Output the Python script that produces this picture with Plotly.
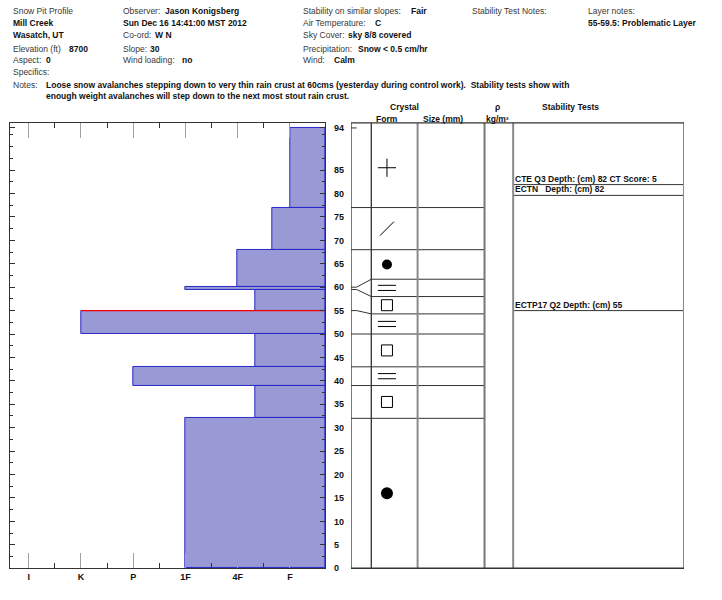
import plotly.graph_objects as go

W, H = 722, 600

# ---------------- data ----------------
layer_top_cm = [94, 77, 68, 60, 59.5, 55, 50, 43, 39, 32]
layer_bottom_cm = [77, 68, 60, 59.5, 55, 50, 43, 39, 32, 0]
layer_hardness = [1.0, 1.33, 2.0, 3.0, 1.67, 5.0, 1.67, 4.0, 1.67, 3.0]  # F=1 ... I=6
hardness_ticks = [6, 5, 4, 3, 2, 1]
hardness_labels = ["I", "K", "P", "1F", "4F", "F"]
hardness_minor = [1.5, 2.5, 3.5, 4.5, 5.5]

depth_ticks = [0, 5, 10, 15, 20, 25, 30, 35, 40, 45, 50, 55, 60, 65, 70, 75, 80, 85, 94]
depth_minor = [2.5, 7.5, 12.5, 17.5, 22.5, 27.5, 32.5, 37.5, 42.5, 47.5, 52.5, 57.5,
               62.5, 67.5, 72.5, 77.5, 82.5, 87.5, 90, 92.5]

# crystal column: displayed layer boundaries (thin layers expanded)
form_top_cm = [94, 77, 68, 61.7, 58, 54.3, 50, 43, 39, 32]
form_bottom_cm = [77, 68, 61.7, 58, 54.3, 50, 43, 39, 32, 0]
crystal_form = ["+", "/", "o", "=", "[]", "=", "[]", "=", "[]", "o2"]

problem_layer_top = 55

test_labels = ["CTE Q3 Depth: (cm) 82 CT Score: 5",
               "ECTN\u00a0\u00a0 Depth: (cm) 82",
               "ECTP17 Q2 Depth: (cm) 55"]
test_depth_display = [81.9, 79.6, 55]

# ---------------- layout constants ----------------
FONT = "Liberation Sans"
TXT = "#383838"
BAR_FILL = "rgb(153,153,214)"
BAR_EDGE = "rgb(40,40,200)"
Y_TOP = 95.06
H0 = 0.33  # right edge of hardness scale
NORM_SIZE = 8.5
BOLD_SIZE = 8.5

LEFT_X0, LEFT_X1 = 10.3, 325.0
PLOT_Y0, PLOT_Y1 = 124.0, 573.0
ST_X0, ST_X1 = 351.0, 684.0
COL_FORM, COL_SIZE, COL_RHO, COL_STAB = 0.061, 0.200, 0.401, 0.487
FORM_X = 0.108


def px(x):
    return x / W


def py(y):
    return 1 - y / H


fig = go.Figure()

# hardness bars
centers = [(t + b) / 2 for t, b in zip(layer_top_cm, layer_bottom_cm)]
thick = [t - b for t, b in zip(layer_top_cm, layer_bottom_cm)]
fig.add_trace(go.Bar(
    orientation="h", y=centers, x=[h - H0 for h in layer_hardness], base=H0,
    width=thick, marker=dict(color=BAR_FILL, line=dict(color=BAR_EDGE, width=1)),
    xaxis="x", yaxis="y", hoverinfo="skip", showlegend=False))

# red line at top of problematic layer
pi = layer_top_cm.index(problem_layer_top)
fig.add_trace(go.Scatter(
    x=[layer_hardness[pi], H0], y=[problem_layer_top, problem_layer_top],
    mode="lines", line=dict(color="red", width=1.2), xaxis="x", yaxis="y",
    hoverinfo="skip", showlegend=False))

# stratigraphy layer boundaries with connectors
bounds = layer_top_cm[1:]
fbounds = form_top_cm[1:]
for b, f in zip(bounds, fbounds):
    fig.add_trace(go.Scatter(
        x=[0, 0.017, COL_FORM, COL_RHO], y=[b, b, f, f], mode="lines",
        line=dict(color="#333333", width=1), xaxis="x2", yaxis="y",
        hoverinfo="skip", showlegend=False))
# surface stub
fig.add_trace(go.Scatter(
    x=[0, 0.017], y=[layer_top_cm[0], layer_top_cm[0]], mode="lines",
    line=dict(color="#333333", width=1), xaxis="x2", yaxis="y",
    hoverinfo="skip", showlegend=False))

# crystal forms
fmid = [(t + b) / 2 for t, b in zip(form_top_cm, form_bottom_cm)]


def add_marker(ys, symbol, size, filled=False, lw=1):
    fig.add_trace(go.Scatter(
        x=[FORM_X] * len(ys), y=ys, mode="markers", xaxis="x2", yaxis="y",
        marker=dict(symbol=symbol, size=size, color="black",
                    line=dict(color="#222222", width=lw if not filled else 0)),
        hoverinfo="skip", showlegend=False))


add_marker([m for m, c in zip(fmid, crystal_form) if c == "+"], "cross-thin-open", 13)
add_marker([m for m, c in zip(fmid, crystal_form) if c == "/"], "line-ne-open", 14)
add_marker([m for m, c in zip(fmid, crystal_form) if c == "o"], "circle", 10, filled=True)
add_marker([m for m, c in zip(fmid, crystal_form) if c == "o2"], "circle", 12, filled=True)
add_marker([m for m, c in zip(fmid, crystal_form) if c == "[]"], "square-open", 11)
eq = [m for m, c in zip(fmid, crystal_form) if c == "="]
add_marker([m + 0.55 for m in eq] + [m - 0.55 for m in eq], "line-ew-open", 13)

# stability test lines
for d in test_depth_display:
    fig.add_trace(go.Scatter(
        x=[COL_STAB, 1], y=[d, d], mode="lines", line=dict(color="#333333", width=1),
        xaxis="x2", yaxis="y", hoverinfo="skip", showlegend=False))

annotations = []
for lab, d in zip(test_labels, test_depth_display):
    annotations.append(dict(
        xref="x2", yref="y", x=COL_STAB + 0.003, y=d, text="<b>" + lab + "</b>",
        xanchor="left", yanchor="bottom", showarrow=False, borderpad=0,
        font=dict(family=FONT, size=BOLD_SIZE, color="#111111")))

# shapes: stratigraphy frame and columns
shapes = []


def vline(x, color, width):
    shapes.append(dict(type="line", xref="x2", yref="y domain", x0=x, x1=x, y0=0, y1=1,
                       line=dict(color=color, width=width)))


def hline(y, color, width):
    shapes.append(dict(type="line", xref="x2", yref="y domain", x0=0, x1=1, y0=y, y1=y,
                       line=dict(color=color, width=width)))


vline(COL_SIZE, "#8a8a8a", 2)
vline(COL_RHO, "#777777", 2)
vline(COL_STAB, "#8a8a8a", 2)
vline(1, "#8a8a8a", 2)
vline(0, "#333333", 1.3)
vline(COL_FORM, "#333333", 1.3)
hline(0, "#333333", 1.3)
hline(1, "#333333", 1.3)


def ann(x, y, text, bold=False, anchor="left", size=None, color=None):
    annotations.append(dict(
        xref="paper", yref="paper", x=px(x), y=py(y), xanchor=anchor, yanchor="middle",
        text=("<b>%s</b>" % text) if bold else text, showarrow=False,
        font=dict(family=FONT, size=size or (BOLD_SIZE if bold else NORM_SIZE),
                  color=color or ("#111111" if bold else TXT))))


R1, R2, R3, R4, R5, R6, R7, R8 = 11, 23.3, 35.3, 49, 61, 73, 86, 97.3

# header block
ann(11, R1, "Snow Pit Profile")
ann(11, R2, "Mill Creek", True)
ann(11, R3, "Wasatch, UT", True)
ann(11, R4, "Elevation (ft)")
ann(67, R4, "8700", True)
ann(11, R5, "Aspect:")
ann(44, R5, "0", True)
ann(11, R6, "Specifics:")
ann(11, R7, "Notes:")
ann(44, R7, "Loose snow avalanches stepping down to very thin rain crust at 60cms "
            "(yesterday during control work).\u00a0 Stability tests show with", True)
ann(44, R8, "enough weight avalanches will step down to the next most stout rain crust.", True)

ann(121, R1, "Observer:")
ann(163, R1, "Jason Konigsberg", True)
ann(121, R2, "Sun Dec 16 14:41:00 MST 2012", True)
ann(121, R3, "Co-ord:")
ann(153, R3, "W N", True)
ann(121, R4, "Slope:")
ann(148, R4, "30", True)
ann(121, R5, "Wind loading:")
ann(180, R5, "no", True)

ann(301, R1, "Stability on similar slopes:")
ann(409, R1, "Fair", True)
ann(301, R2, "Air Temperature:")
ann(373, R2, "C", True)
ann(301, R3, "Sky Cover:")
ann(346, R3, "sky 8/8 covered", True)
ann(301, R4, "Precipitation:")
ann(356, R4, "Snow &lt; 0.5 cm/hr", True)
ann(301, R5, "Wind:")
ann(332, R5, "Calm", True)

ann(470, R1, "Stability Test Notes:")
ann(586, R1, "Layer notes:")
ann(586, R2, "55-59.5: Problematic Layer", True)

# column headers
ann(404, 107.5, "Crystal", True, "center")
ann(374, 119.5, "Form", True)
ann(421, 119.5, "Size (mm)", True)
ann(497, 107.5, "\u03c1", True, "center")
ann(497, 119.5, "kg/m\u00b3", True, "center")
ann(540, 107.5, "Stability Tests", True)

fig.update_layout(
    width=W, height=H, margin=dict(l=0, r=0, t=0, b=0),
    paper_bgcolor="white", plot_bgcolor="white", showlegend=False,
    bargap=0,
    xaxis=dict(domain=[px(LEFT_X0), px(LEFT_X1)], range=[0.33 + (LEFT_X1 - LEFT_X0) / 52.26, H0],
               anchor="y", tickmode="array", tickvals=hardness_ticks, ticktext=hardness_labels,
               ticks="inside", ticklen=15, tickcolor="#a0a0a0", tickwidth=1,
               showline=True, linecolor="#333333", linewidth=1.3, mirror="ticks",
               showgrid=False, zeroline=False,
               tickfont=dict(family=FONT, size=9, color="#111111", weight="bold"),
               minor=dict(tickmode="array", tickvals=hardness_minor, ticks="inside",
                          ticklen=5, tickcolor="#333333", showgrid=False)),
    yaxis=dict(domain=[py(PLOT_Y1), py(PLOT_Y0)], range=[0, Y_TOP], anchor="x", side="right",
               tickmode="array", tickvals=depth_ticks, ticktext=[str(v) for v in depth_ticks],
               ticks="inside", ticklen=5, tickcolor="#333333",
               showline=True, linecolor="#333333", linewidth=1.3, mirror="ticks",
               showgrid=False, zeroline=False, ticklabelstandoff=6,
               tickfont=dict(family=FONT, size=9, color="#111111", weight="bold"),
               minor=dict(tickmode="array", tickvals=depth_minor, ticks="inside",
                          ticklen=3, tickcolor="#333333", showgrid=False)),
    xaxis2=dict(domain=[px(ST_X0), px(ST_X1)], range=[0, 1], anchor="y",
                visible=False, showgrid=False, zeroline=False),
    yaxis3=dict(overlaying="y", anchor="free", position=px(ST_X0 + COL_FORM * (ST_X1 - ST_X0)),
                side="left", range=[0, Y_TOP], tickmode="linear", tick0=0, dtick=2.5,
                ticks="inside", ticklen=4, tickcolor="#333333", showticklabels=False,
                showline=False, showgrid=False, zeroline=False),
    yaxis4=dict(overlaying="y", anchor="free", position=px(ST_X0 + COL_RHO * (ST_X1 - ST_X0)),
                side="right", range=[0, Y_TOP], tickmode="linear", tick0=0, dtick=2.5,
                ticks="inside", ticklen=4, tickcolor="#555555", showticklabels=False,
                showline=False, showgrid=False, zeroline=False),
    shapes=shapes, annotations=annotations,
)

fig.write_html("out.html", config={"displayModeBar": False},
               post_script="document.body.style.margin='0';document.body.style.overflow='hidden';")
